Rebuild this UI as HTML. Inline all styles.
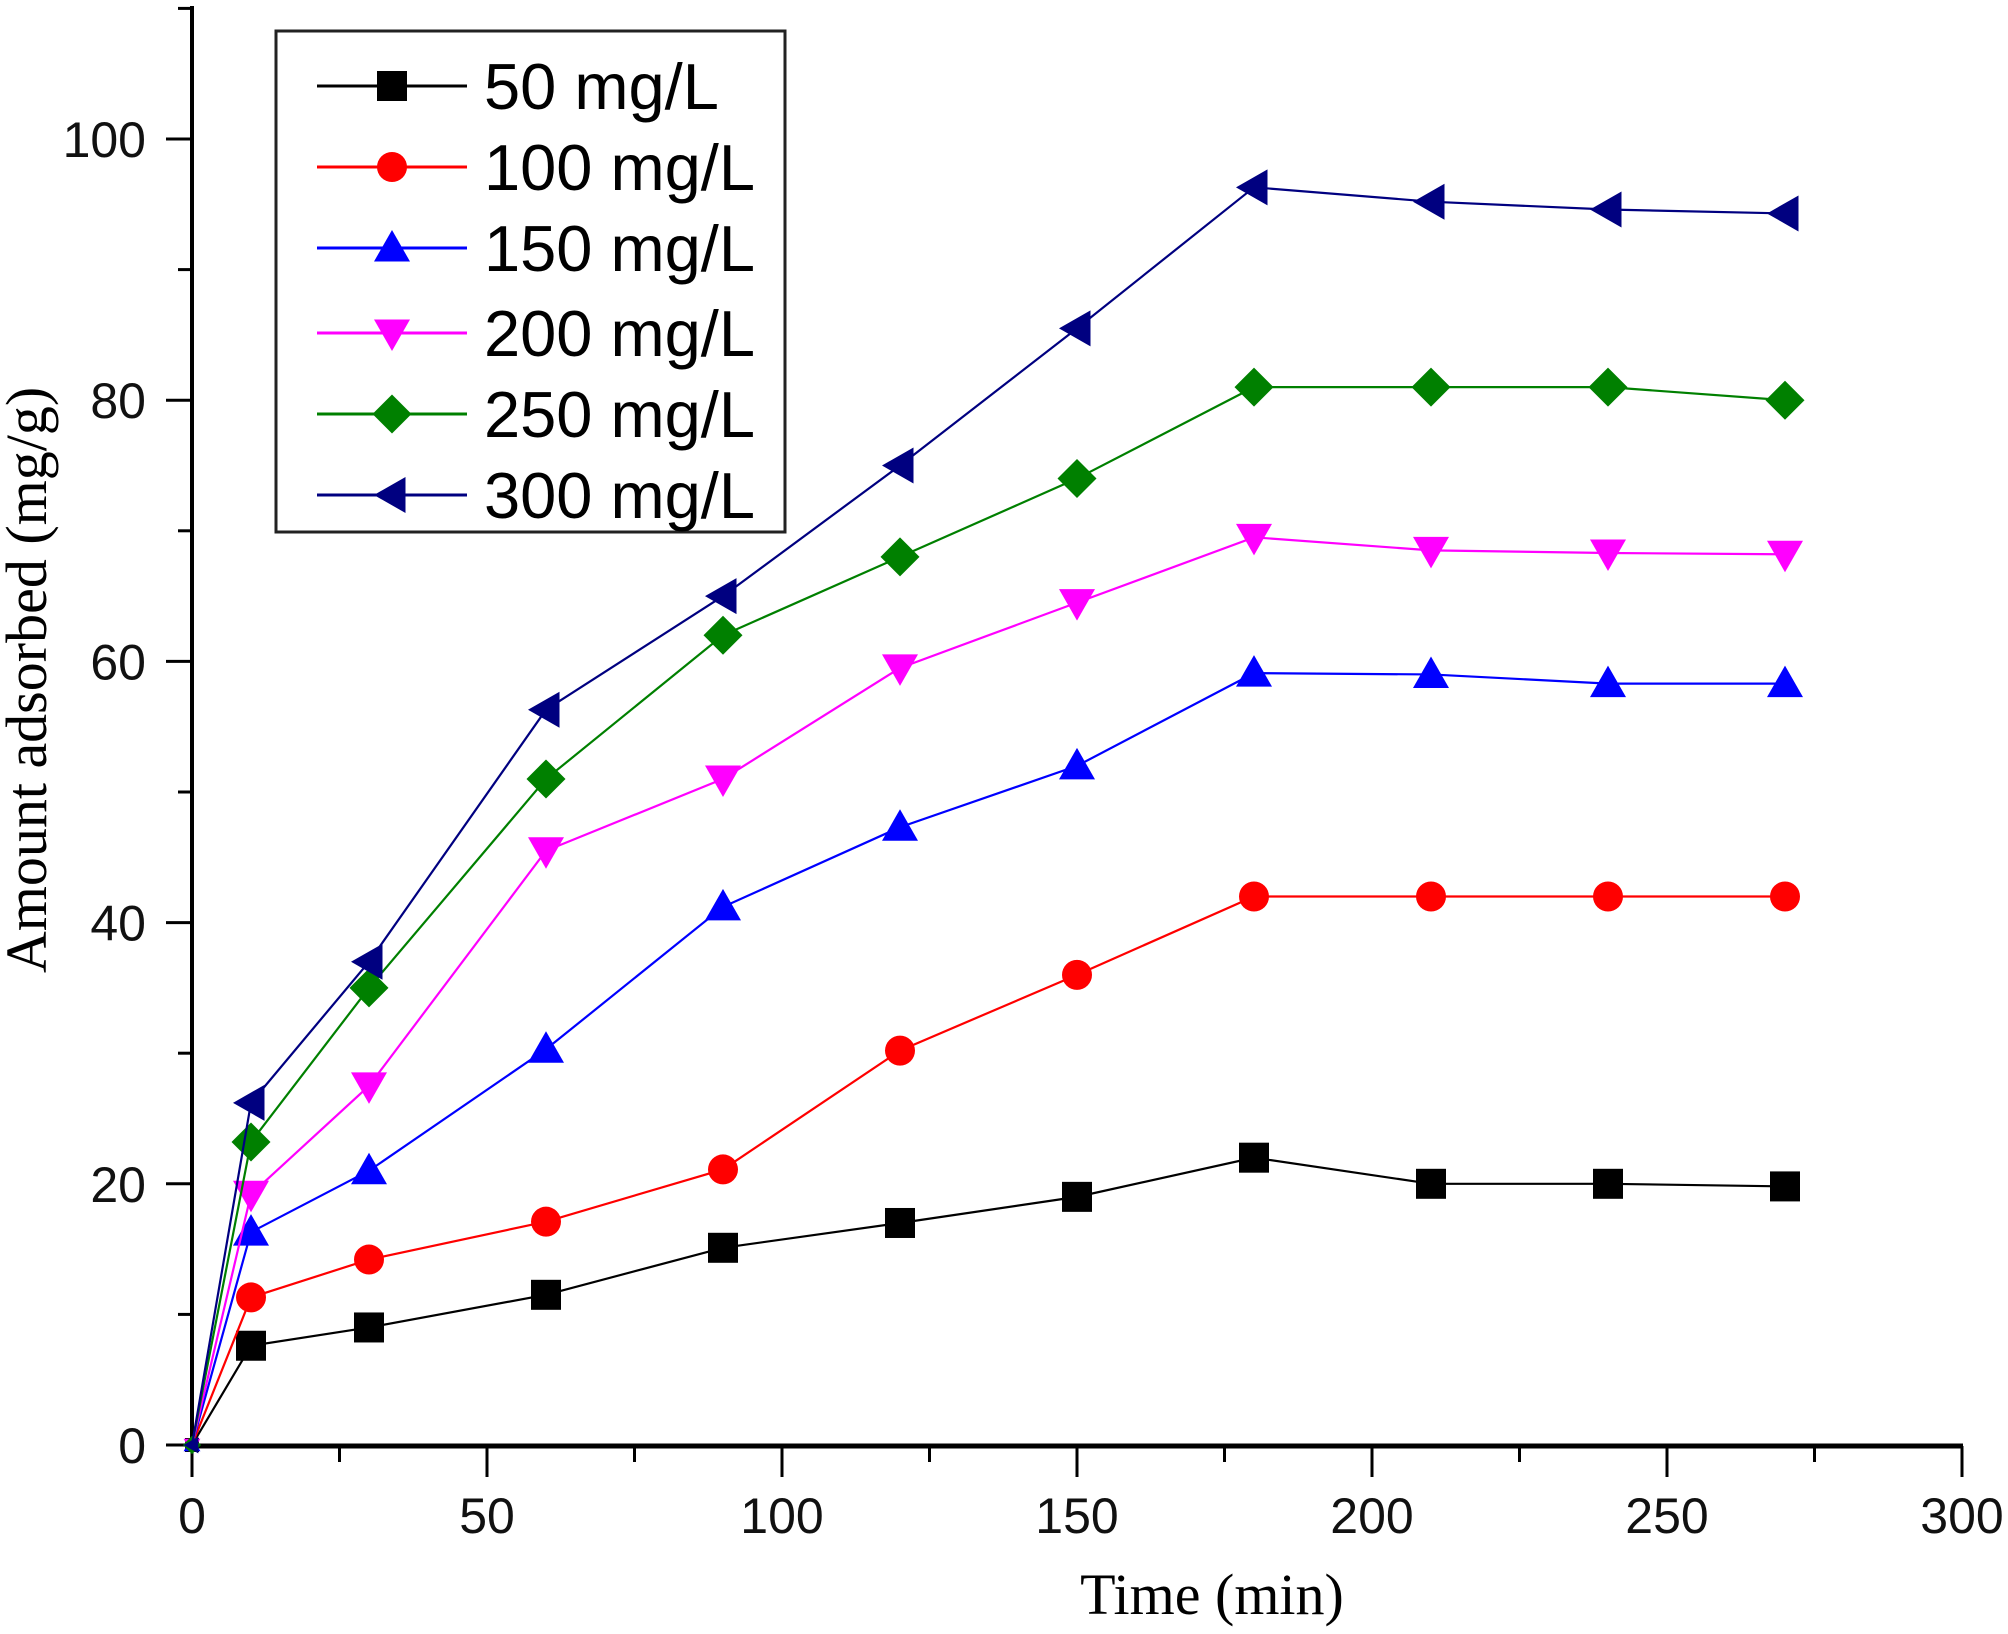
<!DOCTYPE html>
<html><head><meta charset="utf-8"><style>
html,body{margin:0;padding:0;background:#fff;}
svg{display:block;}
</style></head><body>
<svg id="c" width="2008" height="1634" xmlns="http://www.w3.org/2000/svg"></svg>
<script>
const svg=document.getElementById('c');
const X=t=>192+t*5.9, Y=v=>1445-v*13.06;
let s='';
s+=`<line x1="192" y1="6" x2="192" y2="1447" stroke="#000" stroke-width="4"/>`;
s+=`<line x1="190" y1="1446" x2="1963" y2="1446" stroke="#000" stroke-width="5"/>`;
for(let t=0;t<=300;t+=25){const maj=t%50==0;s+=`<line x1="${X(t)}" y1="1446" x2="${X(t)}" y2="${maj?1477:1462}" stroke="#000" stroke-width="3"/>`;
 if(maj)s+=`<text x="${X(t)}" y="1533" font-family="Liberation Sans,sans-serif" font-size="50" text-anchor="middle" fill="#111">${t}</text>`;}
for(let v=0;v<=110;v+=10){const maj=v%20==0;s+=`<line x1="${maj?166:178}" y1="${Y(v)}" x2="192" y2="${Y(v)}" stroke="#000" stroke-width="3"/>`;
 if(maj)s+=`<text x="146" y="${Y(v)+18}" font-family="Liberation Sans,sans-serif" font-size="50" text-anchor="end" fill="#111">${v}</text>`;}
s+=`<text x="1212" y="1614" font-family="Liberation Serif,serif" font-size="58" text-anchor="middle">Time (min)</text>`;
s+=`<text transform="translate(46,680) rotate(-90)" font-family="Liberation Serif,serif" font-size="58" text-anchor="middle">Amount adsorbed (mg/g)</text>`;
const T=[0,10,30,60,90,120,150,180,210,240,270];
const S=[
 ['#000','sq','50 mg/L',[0,7.6,9,11.5,15.1,17,19,22,20,20,19.8]],
 ['#ff0000','ci','100 mg/L',[0,11.3,14.2,17.1,21.1,30.2,36,42,42,42,42]],
 ['#0000ff','tu','150 mg/L',[0,16.3,21,30.3,41.2,47.3,52,59.1,59,58.3,58.3]],
 ['#ff00ff','td','200 mg/L',[0,19.2,27.5,45.5,51,59.5,64.5,69.5,68.5,68.3,68.2]],
 ['#008000','di','250 mg/L',[0,23.2,35,51,62,68,74,81,81,81,80]],
 ['#000080','tl','300 mg/L',[0,26.2,37,56.3,65,75,85.5,96.3,95.2,94.6,94.3]]];
function mk(type,x,y,c,r){
 if(type=='sq')return `<rect x="${x-r}" y="${y-r}" width="${2*r}" height="${2*r}" fill="${c}"/>`;
 if(type=='ci')return `<circle cx="${x}" cy="${y}" r="${r}" fill="${c}"/>`;
 if(type=='tu')return `<polygon points="${x},${y-r*1.2} ${x+r*1.2},${y+r*0.9} ${x-r*1.2},${y+r*0.9}" fill="${c}"/>`;
 if(type=='td')return `<polygon points="${x},${y+r*1.2} ${x+r*1.2},${y-r*0.9} ${x-r*1.2},${y-r*0.9}" fill="${c}"/>`;
 if(type=='di')return `<polygon points="${x},${y-r*1.3} ${x+r*1.3},${y} ${x},${y+r*1.3} ${x-r*1.3},${y}" fill="${c}"/>`;
 if(type=='tl')return `<polygon points="${x-r*1.2},${y} ${x+r*0.9},${y-r*1.2} ${x+r*0.9},${y+r*1.2}" fill="${c}"/>`;
}
S.forEach(([c,m,l,d])=>{
 s+=`<polyline fill="none" stroke="${c}" stroke-width="2.2" points="${T.map((t,i)=>X(t)+','+Y(d[i])).join(' ')}"/>`;
 T.forEach((t,i)=>{s+=mk(m,X(t),Y(d[i]),c,i==0?7:15);});
});
s+=`<rect x="276" y="31" width="509" height="501" fill="#fff" stroke="#222" stroke-width="3"/>`;
const ry=[86,167,248,333,414,495];
S.forEach(([c,m,l],i)=>{
 s+=`<line x1="317" y1="${ry[i]}" x2="467" y2="${ry[i]}" stroke="${c}" stroke-width="3"/>`;
 s+=mk(m,392,ry[i],c,15);
 s+=`<text x="484" y="${ry[i]+23}" font-family="Liberation Sans,sans-serif" font-size="65" fill="#000">${l}</text>`;
});
svg.innerHTML=s;
</script>
</body></html>
